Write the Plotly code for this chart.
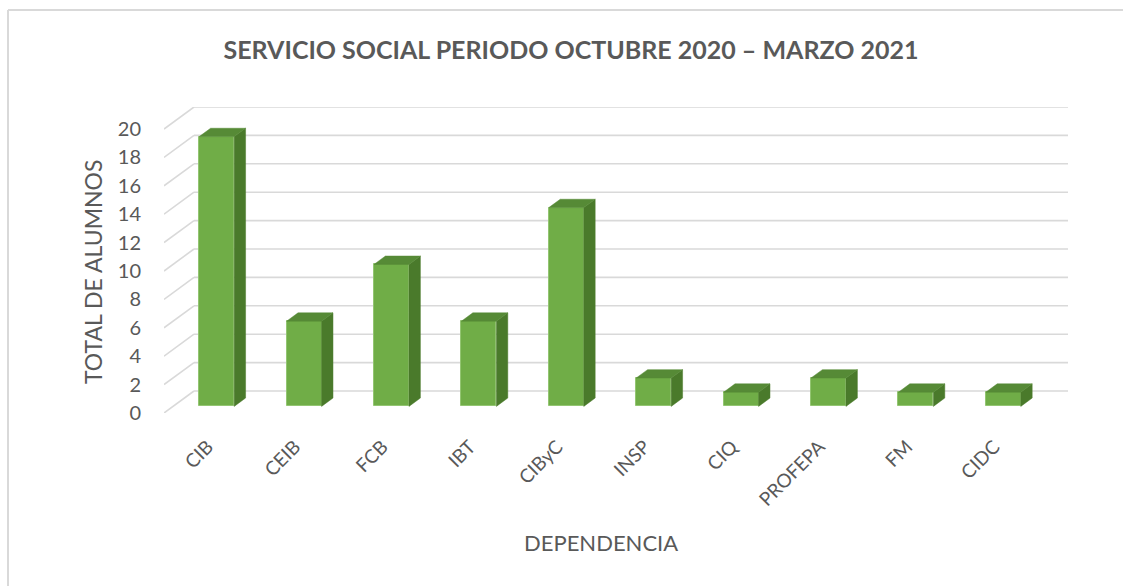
import plotly.graph_objects as go

# ---------------- data ----------------
categories = ["CIB", "CEIB", "FCB", "IBT", "CIByC", "INSP", "CIQ", "PROFEPA", "FM", "CIDC"]
values = [19, 6, 10, 6, 14, 2, 1, 2, 1, 1]
y_tick_values = list(range(0, 21, 2))
title_text = "SERVICIO SOCIAL PERIODO OCTUBRE 2020 – MARZO 2021"
y_title = "TOTAL DE ALUMNOS"
x_title = "DEPENDENCIA"

# ---------------- layout geometry (pixels) ----------------
W, H = 1123, 586
L, R, B = 164, 1068, 413
n = len(categories)
depth_dx_px, depth_dy_px = 30.0, 22.0
cat_px = (R - depth_dx_px - L) / n          # px per category on the front plane
uy = 14.2                                    # px per value unit
ymax_front = 20
yr = [0, ymax_front + depth_dy_px / uy]
T = B - yr[1] * uy
ddx = depth_dx_px / cat_px                   # full depth in x data units
ddy = depth_dy_px / uy                       # full depth in y data units
xr = [-0.5, n - 0.5 + ddx]

d0, d1 = 0.30, 0.68                          # bar front/back depth fraction
hw = 0.20                                    # half bar width (category units)

FRONT = "#70AD47"
SIDE = "#4A7A2B"
TOP = "#568A36"
EDGE = "#93C572"
GRID = "#D9D9D9"
TXT = "#595959"
FONT = "Lato"

fig = go.Figure()

# back wall gridlines + side wall diagonals (below the bars)
grid_shapes = []
for v in y_tick_values:
    grid_shapes.append(dict(type="line", xref="x", yref="y", layer="below",
                            x0=-0.5, y0=v, x1=-0.5 + ddx, y1=v + ddy,
                            line=dict(color=GRID, width=1.6)))
    grid_shapes.append(dict(type="line", xref="x", yref="y", layer="below",
                            x0=-0.5 + ddx, y0=v + ddy, x1=xr[1], y1=v + ddy,
                            line=dict(color=GRID, width=1.6)))

# bar front faces
fig.add_trace(go.Bar(
    x=list(range(n)), y=values, base=d0 * ddy, width=2 * hw,
    offset=-hw + d0 * ddx,
    marker=dict(color=FRONT, line=dict(color=EDGE, width=1)),
    showlegend=False, hovertext=categories, hoverinfo="text+y"))

# side faces and top faces
sx, sy, tx, ty = [], [], [], []
for i, v in enumerate(values):
    xf = i + hw + d0 * ddx
    xb = i + hw + d1 * ddx
    sx += [xf, xb, xb, xf, xf, None]
    sy += [d0 * ddy, d1 * ddy, v + d1 * ddy, v + d0 * ddy, d0 * ddy, None]
    xl0 = i - hw + d0 * ddx
    xl1 = i - hw + d1 * ddx
    tx += [xl0, xf, xb, xl1, xl0, None]
    ty += [v + d0 * ddy, v + d0 * ddy, v + d1 * ddy, v + d1 * ddy, v + d0 * ddy, None]
fig.add_trace(go.Scatter(x=sx, y=sy, mode="lines", fill="toself", fillcolor=SIDE,
                         line=dict(color=SIDE, width=0.5), hoverinfo="skip", showlegend=False))
fig.add_trace(go.Scatter(x=tx, y=ty, mode="lines", fill="toself", fillcolor=TOP,
                         line=dict(color=TOP, width=0.5), hoverinfo="skip", showlegend=False))

pw = R - L
ph = B - T


def px_x(p):
    return (p - L) / pw


def px_y(p):
    return (B - p) / ph


border_shapes = [
    dict(type="line", xref="paper", yref="paper", x0=px_x(8), x1=px_x(W + 5),
         y0=px_y(10), y1=px_y(10), line=dict(color=GRID, width=2)),
    dict(type="line", xref="paper", yref="paper", x0=px_x(8), x1=px_x(8),
         y0=px_y(10), y1=px_y(H + 5), line=dict(color=GRID, width=2)),
]

fig.update_layout(
    width=W, height=H,
    margin=dict(l=L, r=W - R, t=T, b=H - B, pad=0),
    paper_bgcolor="white", plot_bgcolor="white",
    font=dict(family=FONT, color=TXT),
    title=dict(text=f"<b>{title_text}</b>", x=571 / W, xanchor="center",
               y=1 - 50 / H, yanchor="middle",
               font=dict(family=FONT, size=25, color=TXT)),
    xaxis=dict(range=xr, tickmode="array", tickvals=list(range(n)), ticktext=categories,
               tickangle=-45, showgrid=False, zeroline=False, showline=False, ticks="",
               automargin=False,
               ticklabelstandoff=18, tickfont=dict(size=19, color=TXT), fixedrange=True),
    yaxis=dict(range=yr, tickmode="array", tickvals=y_tick_values,
               showgrid=False, zeroline=False, showline=False, ticks="",
               automargin=False,
               ticklabelstandoff=22, tickfont=dict(size=20, color=TXT), fixedrange=True),
    bargap=0,
    annotations=[
        dict(text=y_title, xref="paper", yref="paper", x=px_x(93), y=px_y(272),
             textangle=-90, showarrow=False, xanchor="center", yanchor="middle",
             font=dict(size=23, color=TXT)),
        dict(text=x_title, xref="paper", yref="paper", x=px_x(601), y=px_y(542),
             showarrow=False, xanchor="center", yanchor="middle",
             font=dict(size=22, color=TXT)),
    ],
    shapes=grid_shapes + border_shapes,
)

fig.write_html("out.html", config={"displayModeBar": False},
               post_script="document.body.style.margin='0px';document.body.style.overflow='hidden';")
